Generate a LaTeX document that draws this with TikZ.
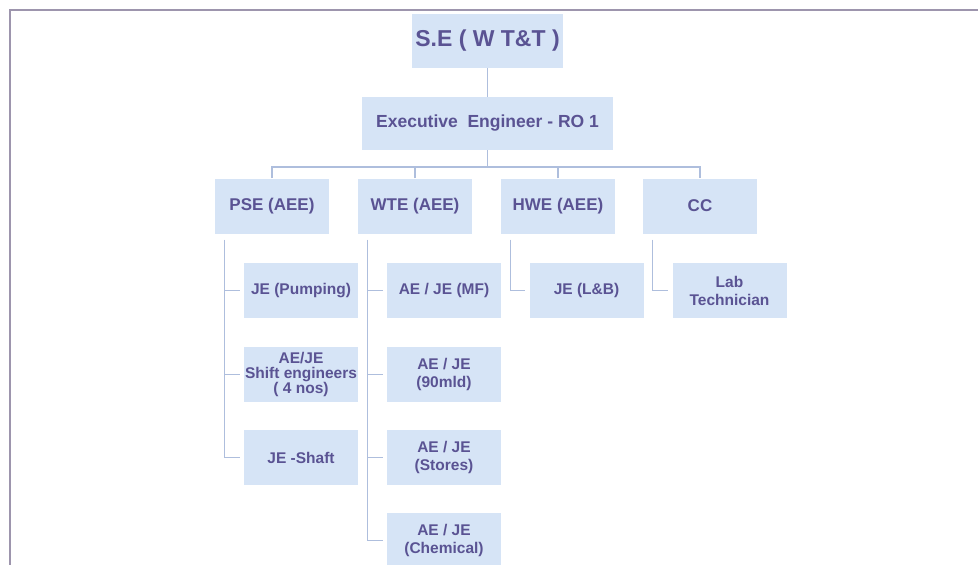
\documentclass[tikz,border=0pt]{standalone}
\usepackage{fontspec}
\setmainfont{Liberation Sans}
\definecolor{boxblue}{HTML}{D6E4F6}
\definecolor{inkpurple}{HTML}{5A5393}
\definecolor{linkblue}{HTML}{AEBEDD}
\definecolor{framegray}{HTML}{9D95AD}
\begin{document}
\begin{tikzpicture}[x=1pt, y=-1pt,
        post/.style={fill=boxblue, text=inkpurple, align=center, inner sep=0pt,
            minimum width=114pt, minimum height=55pt,
            font=\bfseries\fontsize{15.5}{18}\selectfont},
        head/.style={post, font=\bfseries\fontsize{17}{19}\selectfont},
        link/.style={draw=linkblue, line width=1.3pt}]
        \useasboundingbox (0,0) rectangle (978,565);
        \draw[framegray, line width=2pt] (10,566) -- (10,10) -- (979,10);

        % top of the chart
        \node[post, minimum width=151pt, minimum height=54pt, font=\bfseries\fontsize{23}{25}\selectfont] (se) at (487.5,41) {S.E ( W T\&T )};
        \node[post, minimum width=251pt, minimum height=53pt, font=\bfseries\fontsize{17.5}{19}\selectfont] (ee) at (487.5,123.5) {Executive~ Engineer - RO 1};

        % sections
        \node[head] (pse) at (272,206) {PSE (AEE)};
        \node[head] (wte) at (415,206) {WTE (AEE)};
        \node[head] (hwe) at (558,206) {HWE (AEE)};
        \node[head] (cc) at (700,206) {CC};

        % staff under PSE
        \node[post] (jp) at (301,290.5) {JE (Pumping)};
        \node[post, font=\bfseries\fontsize{15.5}{15}\selectfont] (sh) at (301,374.5) {AE/JE\\Shift engineers\\( 4 nos)};
        \node[post] (js) at (301,457.5) {JE -Shaft};

        % staff under WTE
        \node[post] (mf) at (444,290.5) {AE / JE (MF)};
        \node[post] (md) at (444,374.5) {AE / JE\\(90mld)};
        \node[post] (st) at (444,457.5) {AE / JE\\(Stores)};
        \node[post] (ch) at (444,540.5) {AE / JE\\(Chemical)};

        % staff under HWE and CC
        \node[post] (lb) at (586.5,290.5) {JE (L\&B)};
        \node[post] (lt) at (729.5,290.5) {Lab\\Technician};

        % links
        \coordinate (bus) at (487.5,167);
        \draw[link] (se.south) -- (ee.north);
        \draw[link] (ee.south) -- (bus);
        \draw[link] (pse.north) |- (bus) -| (cc.north);
        \draw[link] (wte.north) -- (wte.north |- bus);
        \draw[link] (hwe.north) -- (hwe.north |- bus);

        \coordinate (psebar) at ([xshift=10pt,yshift=-6pt]pse.south west);
        \coordinate (wtebar) at ([xshift=10pt,yshift=-6pt]wte.south west);
        \coordinate (hwebar) at ([xshift=10pt,yshift=-6pt]hwe.south west);
        \coordinate (ccbar) at ([xshift=10pt,yshift=-6pt]cc.south west);

        \draw[link, shorten >=4pt] (psebar) |- (js.west);
        \draw[link, shorten <=4pt] (jp.west) -- (jp.west -| psebar);
        \draw[link, shorten <=4pt] (sh.west) -- (sh.west -| psebar);

        \draw[link, shorten >=4pt] (wtebar) |- (ch.west);
        \draw[link, shorten <=4pt] (mf.west) -- (mf.west -| wtebar);
        \draw[link, shorten <=4pt] (md.west) -- (md.west -| wtebar);
        \draw[link, shorten <=4pt] (st.west) -- (st.west -| wtebar);

        \draw[link, shorten >=4pt] (hwebar) |- (lb.west);
        \draw[link, shorten >=4pt] (ccbar) |- (lt.west);
    \end{tikzpicture}
\end{document}
